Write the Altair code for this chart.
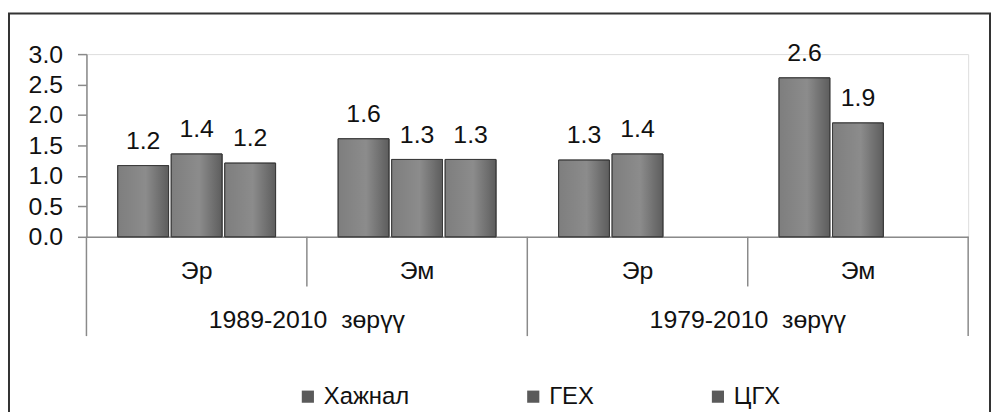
import altair as alt
import pandas as pd

# ---- data ----
groups = ["1989 Эр", "1989 Эм", "1979 Эр", "1979 Эм"]
group_labels = ["Эр", "Эм", "Эр", "Эм"]
periods = ["1989-2010\u00a0 зөрүү", "1979-2010\u00a0 зөрүү"]
period_anchor = ["1989 Эм", "1979 Эм"]
period_start = ["1989 Эр", "1979 Эр"]
series = ["Хажнал", "ГЕХ", "ЦГХ"]
khazhnal = [1.17, 1.61, 1.26, 2.61]
gekh = [1.36, 1.27, 1.36, 1.87]
tsgkh = [1.21, 1.27, None, None]
y_ticks = [0, 0.5, 1.0, 1.5, 2.0, 2.5, 3.0]

rows = []
for s, vals in zip(series, [khazhnal, gekh, tsgkh]):
    for g, v in zip(groups, vals):
        if v is not None:
            rows.append({"grp": g, "series": s, "value": v})
df = pd.DataFrame(rows)
cat_df = pd.DataFrame({"grp": groups, "label": group_labels})
per_df = pd.DataFrame({"grp": period_anchor, "label": periods})
start_df = pd.DataFrame({"grp": period_start})
end_df = pd.DataFrame({"grp": [groups[-1]]})

W, H = 888, 184
FONT = "Liberation Sans, Arial, sans-serif"
AX = "#8a8a8a"

x_scale = alt.Scale(domain=groups, paddingInner=0, paddingOuter=0)
x_axis = alt.Axis(title=None, labels=False, ticks=False, domainColor=AX, domainWidth=1.5)


def xenc(bp=None):
    if bp is None:
        return alt.X("grp:N", sort=groups, scale=x_scale, axis=x_axis)
    return alt.X("grp:N", sort=groups, scale=x_scale, axis=x_axis, bandPosition=bp)


xo_enc = alt.XOffset("series:N", sort=series,
                     scale=alt.Scale(domain=series, paddingInner=0.05, paddingOuter=0.585))
y_enc = alt.Y("value:Q", scale=alt.Scale(domain=[0, 3], nice=False),
              axis=alt.Axis(values=y_ticks, format=".1f", title=None, grid=False,
                            labelFontSize=25, labelFont=FONT, labelColor="#111",
                            tickSize=9, tickColor=AX, domainColor=AX, domainWidth=1.5,
                            tickWidth=1.5, labelPadding=15))

bars = alt.Chart(df).mark_bar(stroke="#3a3a3a", strokeWidth=1).encode(
    x=xenc(), xOffset=xo_enc, y=y_enc,
    color=alt.Color("series:N", sort=series,
                    scale=alt.Scale(domain=series, range=["#5a5a5a"] * 3),
                    legend=alt.Legend(title=None, orient="none", legendX=211, legendY=333,
                                      direction="horizontal", symbolType="square",
                                      symbolSize=150, symbolStrokeWidth=0,
                                      labelFontSize=24, labelFont=FONT, labelColor="#111",
                                      columnPadding=112, labelOffset=4, padding=0,
                                      symbolOpacity=1)),
)

shade = alt.Chart(df).mark_bar(
    fill=alt.Gradient(gradient="linear", x1=0, x2=1, y1=0, y2=0, stops=[
        alt.GradientStop(color="rgba(255,255,255,0.22)", offset=0),
        alt.GradientStop(color="rgba(255,255,255,0.30)", offset=0.55),
        alt.GradientStop(color="rgba(255,255,255,0.02)", offset=1),
    ]),
    stroke="#3a3a3a", strokeWidth=1,
).encode(x=xenc(), xOffset=xo_enc, y=y_enc)

vlabels = alt.Chart(df).mark_text(baseline="alphabetic", dy=-17, fontSize=25,
                                  font=FONT, color="#111").encode(
    x=xenc(), xOffset=xo_enc, y=y_enc, text=alt.Text("value:Q", format=".1f"))

cats = alt.Chart(cat_df).mark_text(baseline="middle", fontSize=25, font=FONT,
                                   color="#111").encode(
    x=xenc(), y=alt.value(218), text="label:N")

pers = alt.Chart(per_df).mark_text(baseline="middle", fontSize=25, font=FONT,
                                   color="#111").encode(
    x=xenc(0), y=alt.value(268), text="label:N")

short_rules = alt.Chart(per_df).mark_rule(color=AX, strokeWidth=1.5).encode(
    x=xenc(0), y=alt.value(H), y2=alt.value(234))
long_rules = alt.Chart(start_df).mark_rule(color=AX, strokeWidth=1.5).encode(
    x=xenc(0), y=alt.value(H), y2=alt.value(284))
end_rule = alt.Chart(end_df).mark_rule(color=AX, strokeWidth=1.5).encode(
    x=xenc(1), y=alt.value(H), y2=alt.value(284))

border = alt.Chart(alt.Data(values=[{"b": 1}])).mark_rect(
    filled=False, stroke="#333333", strokeWidth=2).encode(
    x=alt.value(-78), x2=alt.value(910), y=alt.value(-41), y2=alt.value(420))

chart = alt.layer(border, bars, shade, vlabels, cats, pers, short_rules, long_rules,
                  end_rule).properties(
    width=W, height=H,
    padding={"left": 79, "top": 45, "right": 23, "bottom": 175},
    autosize=alt.AutoSizeParams(type="none"),
).configure_view(stroke=None).configure(font=FONT)

chart.save("out.html", embed_options={"renderer": "svg", "actions": False})
